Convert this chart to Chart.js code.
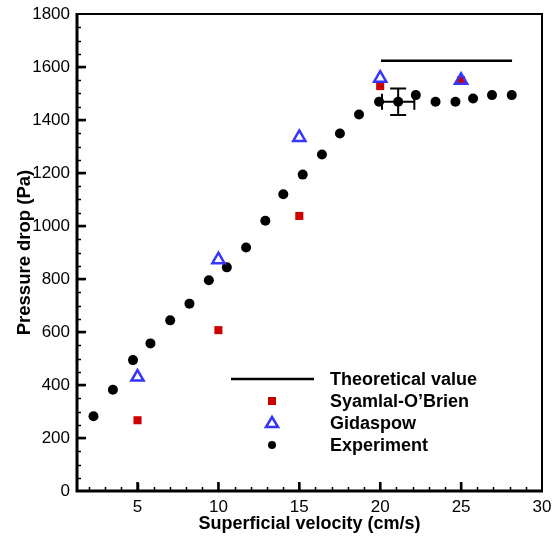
<!DOCTYPE html>
<html>
<head>
<meta charset="utf-8">
<script src="https://cdn.jsdelivr.net/npm/chart.js@4"></script>
<style>
  html, body { margin: 0; padding: 0; background: #fff; }
  #wrap { width: 553px; height: 537px; }
</style>
</head>
<body>
<div id="wrap"><canvas id="chart" width="553" height="537"></canvas></div>
<script>
// --- data ---
const expX = [2.28, 3.48, 4.72, 5.8, 7.02, 8.21, 9.41, 10.52, 11.71, 12.9, 14.01, 15.21, 16.4, 17.51, 18.69, 19.93, 21.11, 22.2, 23.42, 24.65, 25.74, 26.91, 28.13];
const expY = [282, 382, 494, 557, 644, 707, 795, 844, 919, 1020, 1120, 1194, 1270, 1349, 1421, 1469, 1469, 1494, 1469, 1469, 1481, 1494, 1494];

const modelX = [5, 10, 15, 20, 25];
const syamlalY = [267, 607, 1038, 1528, 1550];
const gidaspowY = [430, 873, 1334, 1558, 1550];

const theoryX = [20.05, 28.15];
const theoryY = [1624, 1624];

// error bar on one experimental point
const errX = 21.11, errY = 1469, errDx = 1.0, errDy = 50;

const xTicks = [5, 10, 15, 20, 25, 30];
const yTicks = [0, 200, 400, 600, 800, 1000, 1200, 1400, 1600, 1800];

const RED = '#cc0000';
const BLUE = '#3535ff';
const FONT = 'Liberation Sans, Arial, Helvetica, sans-serif';

// --- frame, inward ticks, error bar, legend ---
const decor = {
  id: 'decor',
  afterDatasetsDraw(chart) {
    const { ctx, chartArea: a, scales: { x, y } } = chart;
    ctx.save();
    ctx.strokeStyle = '#000';

    // error bar
    const cx = x.getPixelForValue(errX), cy = y.getPixelForValue(errY);
    const xl = x.getPixelForValue(errX - errDx), xr = x.getPixelForValue(errX + errDx);
    const yt = y.getPixelForValue(errY + errDy), yb = y.getPixelForValue(errY - errDy);
    ctx.lineWidth = 2;
    ctx.beginPath();
    ctx.moveTo(xl, cy); ctx.lineTo(xr, cy);
    ctx.moveTo(cx, yt); ctx.lineTo(cx, yb);
    ctx.moveTo(xl, cy - 8); ctx.lineTo(xl, cy + 8);
    ctx.moveTo(xr, cy - 8); ctx.lineTo(xr, cy + 8);
    ctx.moveTo(cx - 8, yt); ctx.lineTo(cx + 8, yt);
    ctx.moveTo(cx - 8, yb); ctx.lineTo(cx + 8, yb);
    ctx.stroke();

    // minor + major ticks (inward) on left and bottom
    ctx.lineWidth = 1.5;
    ctx.beginPath();
    for (let v = 50; v < 1800; v += 50) {
      const py = Math.round(y.getPixelForValue(v)) + 0.5;
      const len = v % 200 === 0 ? 8 : 4;
      ctx.moveTo(a.left, py); ctx.lineTo(a.left + len, py);
    }
    for (let v = 2; v < 30; v += 1) {
      const px = Math.round(x.getPixelForValue(v)) + 0.5;
      const len = v % 5 === 0 ? 8 : 4;
      ctx.moveTo(px, a.bottom); ctx.lineTo(px, a.bottom - len);
    }
    ctx.stroke();
    // heavier major ticks
    ctx.lineWidth = 2.5;
    ctx.beginPath();
    yTicks.forEach(v => {
      if (v === 0 || v === 1800) return;
      const py = y.getPixelForValue(v);
      ctx.moveTo(a.left, py); ctx.lineTo(a.left + 9, py);
    });
    xTicks.forEach(v => {
      if (v === 30) return;
      const px = x.getPixelForValue(v);
      ctx.moveTo(px, a.bottom); ctx.lineTo(px, a.bottom - 9);
    });
    ctx.stroke();

    // frame
    ctx.lineWidth = 2;
    ctx.beginPath();
    ctx.moveTo(a.left, a.top); ctx.lineTo(a.right, a.top); ctx.lineTo(a.right, a.bottom);
    ctx.stroke();
    ctx.lineWidth = 3;
    ctx.beginPath();
    ctx.moveTo(a.left, a.top - 1); ctx.lineTo(a.left, a.bottom); ctx.lineTo(a.right + 1, a.bottom);
    ctx.stroke();

    // legend
    const lx = 272, tx = 330;
    const rows = [379, 401, 423, 445];
    ctx.lineWidth = 2.5;
    ctx.beginPath(); ctx.moveTo(231, rows[0]); ctx.lineTo(314, rows[0]); ctx.stroke();
    ctx.fillStyle = RED;
    ctx.fillRect(lx - 4, rows[1] - 4, 8, 8);
    ctx.strokeStyle = BLUE; ctx.lineWidth = 2.5;
    ctx.beginPath();
    ctx.moveTo(lx, rows[2] - 6); ctx.lineTo(lx + 6, rows[2] + 4); ctx.lineTo(lx - 6, rows[2] + 4); ctx.closePath();
    ctx.stroke();
    ctx.fillStyle = '#000';
    ctx.beginPath(); ctx.arc(lx, rows[3], 4, 0, Math.PI * 2); ctx.fill();

    ctx.font = 'bold 18px ' + FONT;
    ctx.textBaseline = 'middle';
    ctx.textAlign = 'left';
    const labels = ['Theoretical value', 'Syamlal-O\u2019Brien', 'Gidaspow', 'Experiment'];
    labels.forEach((t, i) => ctx.fillText(t, tx, rows[i] + 1));
    ctx.restore();
  }
};

new Chart(document.getElementById('chart'), {
  type: 'scatter',
  data: {
    datasets: [
      {
        label: 'Theoretical value',
        type: 'line',
        data: theoryX.map((v, i) => ({ x: v, y: theoryY[i] })),
        borderColor: '#000',
        borderWidth: 2.5,
        pointRadius: 0,
        order: 4
      },
      {
        label: 'Experiment',
        data: expX.map((v, i) => ({ x: v, y: expY[i] })),
        pointStyle: 'circle',
        pointRadius: 5,
        backgroundColor: '#000',
        borderWidth: 0,
        order: 3
      },
      {
        label: 'Syamlal-O\u2019Brien',
        data: modelX.map((v, i) => ({ x: v, y: syamlalY[i] })),
        pointStyle: 'rect',
        pointRadius: 5.7,
        backgroundColor: RED,
        borderWidth: 0,
        order: 2
      },
      {
        label: 'Gidaspow',
        data: modelX.map((v, i) => ({ x: v, y: gidaspowY[i] })),
        pointStyle: 'triangle',
        pointRadius: 7,
        backgroundColor: 'rgba(0,0,0,0)',
        borderColor: BLUE,
        borderWidth: 2.5,
        order: 1
      }
    ]
  },
  options: {
    responsive: false,
    animation: false,
    layout: { padding: { left: 0, top: 14, right: 11, bottom: 0 } },
    plugins: { legend: { display: false }, tooltip: { enabled: false } },
    scales: {
      x: {
        type: 'linear',
        min: 1.26,
        max: 30,
        afterBuildTicks: s => { s.ticks = xTicks.map(v => ({ value: v })); },
        afterFit: s => { s.height = 46; s.paddingRight = 0; s.paddingLeft = 0; },
        grid: { display: false, drawTicks: false },
        border: { display: false },
        ticks: { color: '#000', font: { family: FONT, size: 17 }, padding: 6, maxRotation: 0, callback: v => String(v) },
        title: {
          display: true,
          text: 'Superficial velocity (cm/s)',
          color: '#000',
          font: { family: FONT, size: 18, weight: 'bold' },
          padding: { top: 0, bottom: 2 }
        }
      },
      y: {
        type: 'linear',
        min: 0,
        max: 1800,
        afterBuildTicks: s => { s.ticks = yTicks.map(v => ({ value: v })); },
        afterFit: s => { s.width = 77; s.paddingTop = 0; s.paddingBottom = 0; },
        grid: { display: false, drawTicks: false },
        border: { display: false },
        ticks: { color: '#000', font: { family: FONT, size: 17 }, padding: 7, callback: v => String(v) },
        title: {
          display: true,
          text: 'Pressure drop (Pa)',
          color: '#000',
          font: { family: FONT, size: 18.5, weight: 'bold' },
          padding: { top: 14, bottom: 0 }
        }
      }
    }
  },
  plugins: [decor]
});
</script>
</body>
</html>
